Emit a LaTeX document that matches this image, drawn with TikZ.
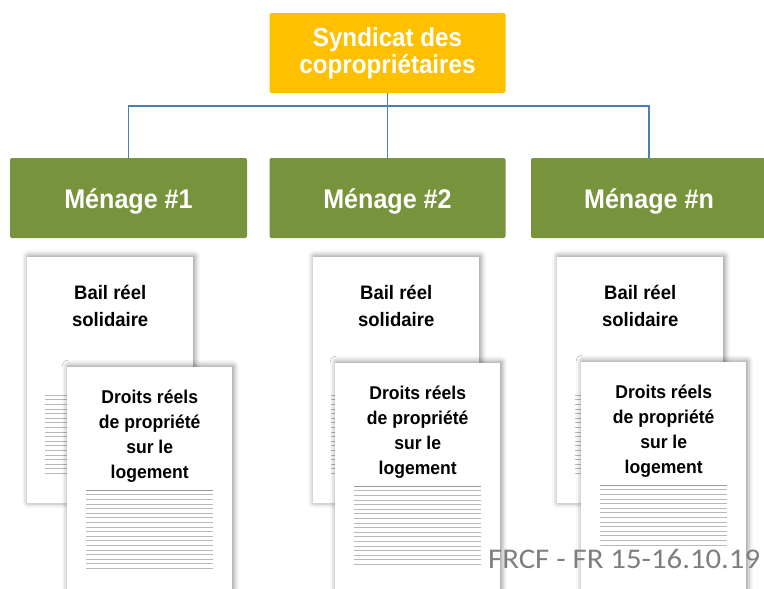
\documentclass[tikz,border=0pt]{standalone}
\usepackage{fontspec}
\setmainfont{Liberation Sans}
\newfontfamily\boxfont{Liberation Sans}[FakeStretch=0.93]
\newfontfamily\pagefont{Liberation Sans}[FakeStretch=0.95]
\newfontfamily\footfont{Carlito}[FakeStretch=1.08]
\usetikzlibrary{shadows.blur}

\definecolor{syndfill}{HTML}{FFC000}
\definecolor{menagefill}{HTML}{77933C}
\definecolor{linkblue}{HTML}{4A7EBB}
\definecolor{footgray}{HTML}{7F7F7F}

\begin{document}
\begin{tikzpicture}[x=1pt,y=-1pt,
  headbox/.style={rectangle, rounded corners=2pt, fill=syndfill, text=white,
    font=\boxfont\bfseries\fontsize{26}{27}\selectfont, align=center,
    minimum width=236pt, minimum height=80pt, inner sep=0pt},
  menbox/.style={rectangle, rounded corners=2pt, fill=menagefill, text=white,
    font=\boxfont\bfseries\fontsize{27}{30}\selectfont,
    minimum width=236pt, minimum height=80pt, text height=20pt, text depth=0pt, inner sep=0pt},
  page/.style={rectangle, fill=white, inner sep=0pt, anchor=north west,
    blur shadow={shadow xshift=1pt, shadow yshift=1pt, shadow blur radius=6pt, shadow opacity=50}},
  pagetext/.style={align=center, inner sep=0pt, anchor=north},
  rule/.style={draw=gray!55, line width=0.6pt},
  toprule/.style={draw=gray!80, line width=0.8pt},
  conn/.style={draw=linkblue, line width=1.2pt}]
\useasboundingbox (0,0) rectangle (764,589);
\clip (0,0) rectangle (764,589);

% top of the hierarchy
\node[headbox] (syn) at (387.5,53) {Syndicat des\\copropriétaires};

% households
\node[menbox, minimum width=237pt] (m1) at (128.5,198) {Ménage \#1};
\node[menbox] (m2) at (387.5,198) {Ménage \#2};
\node[menbox] (m3) at (649,198) {Ménage \#n};

% connectors
\coordinate (bus) at (387.5,106);
\draw[conn] (syn.south) -- (m2.north);
\draw[conn] (m1.north) |- (bus) -| (m3.north);

% documents of each household
\foreach \i/\bx/\fx/\fy/\n in {1/27/67/367/17, 2/313/335/363/17, 3/557/581/362/13} {
  \node[page, minimum width=166pt, minimum height=246pt] (back\i) at (\bx,257) {};
  \node[pagetext, font=\pagefont\bfseries\fontsize{19.5}{27}\selectfont] (bail\i)
    at ([yshift=-28pt]back\i.north) {Bail réel\\solidaire};
  \foreach \k in {0,...,17}
    \draw[rule] ([xshift=18pt, yshift=-138pt-\k*4.6pt]back\i.north west) -- ++(120,0);
  \node[page, minimum width=165pt, minimum height=250pt] (front\i) at (\fx,\fy) {};
  \node[pagetext, font=\pagefont\bfseries\fontsize{18.5}{25}\selectfont] (droits\i)
    at ([yshift=-23pt]front\i.north) {Droits réels\\de propriété\\sur le\\logement};
  \draw[toprule] ([xshift=19pt, yshift=-123pt]front\i.north west) -- ++(127,0);
  \foreach \k in {1,...,\n}
    \draw[rule] ([xshift=19pt, yshift=-123pt-\k*4.6pt]front\i.north west) -- ++(127,0);
}

% footer
\node[anchor=base west, text=footgray, inner sep=0pt,
  font=\footfont\fontsize{28.5}{30}\selectfont] (foot) at (488,568) {FRCF - FR 15-16.10.19};
\end{tikzpicture}
\end{document}
